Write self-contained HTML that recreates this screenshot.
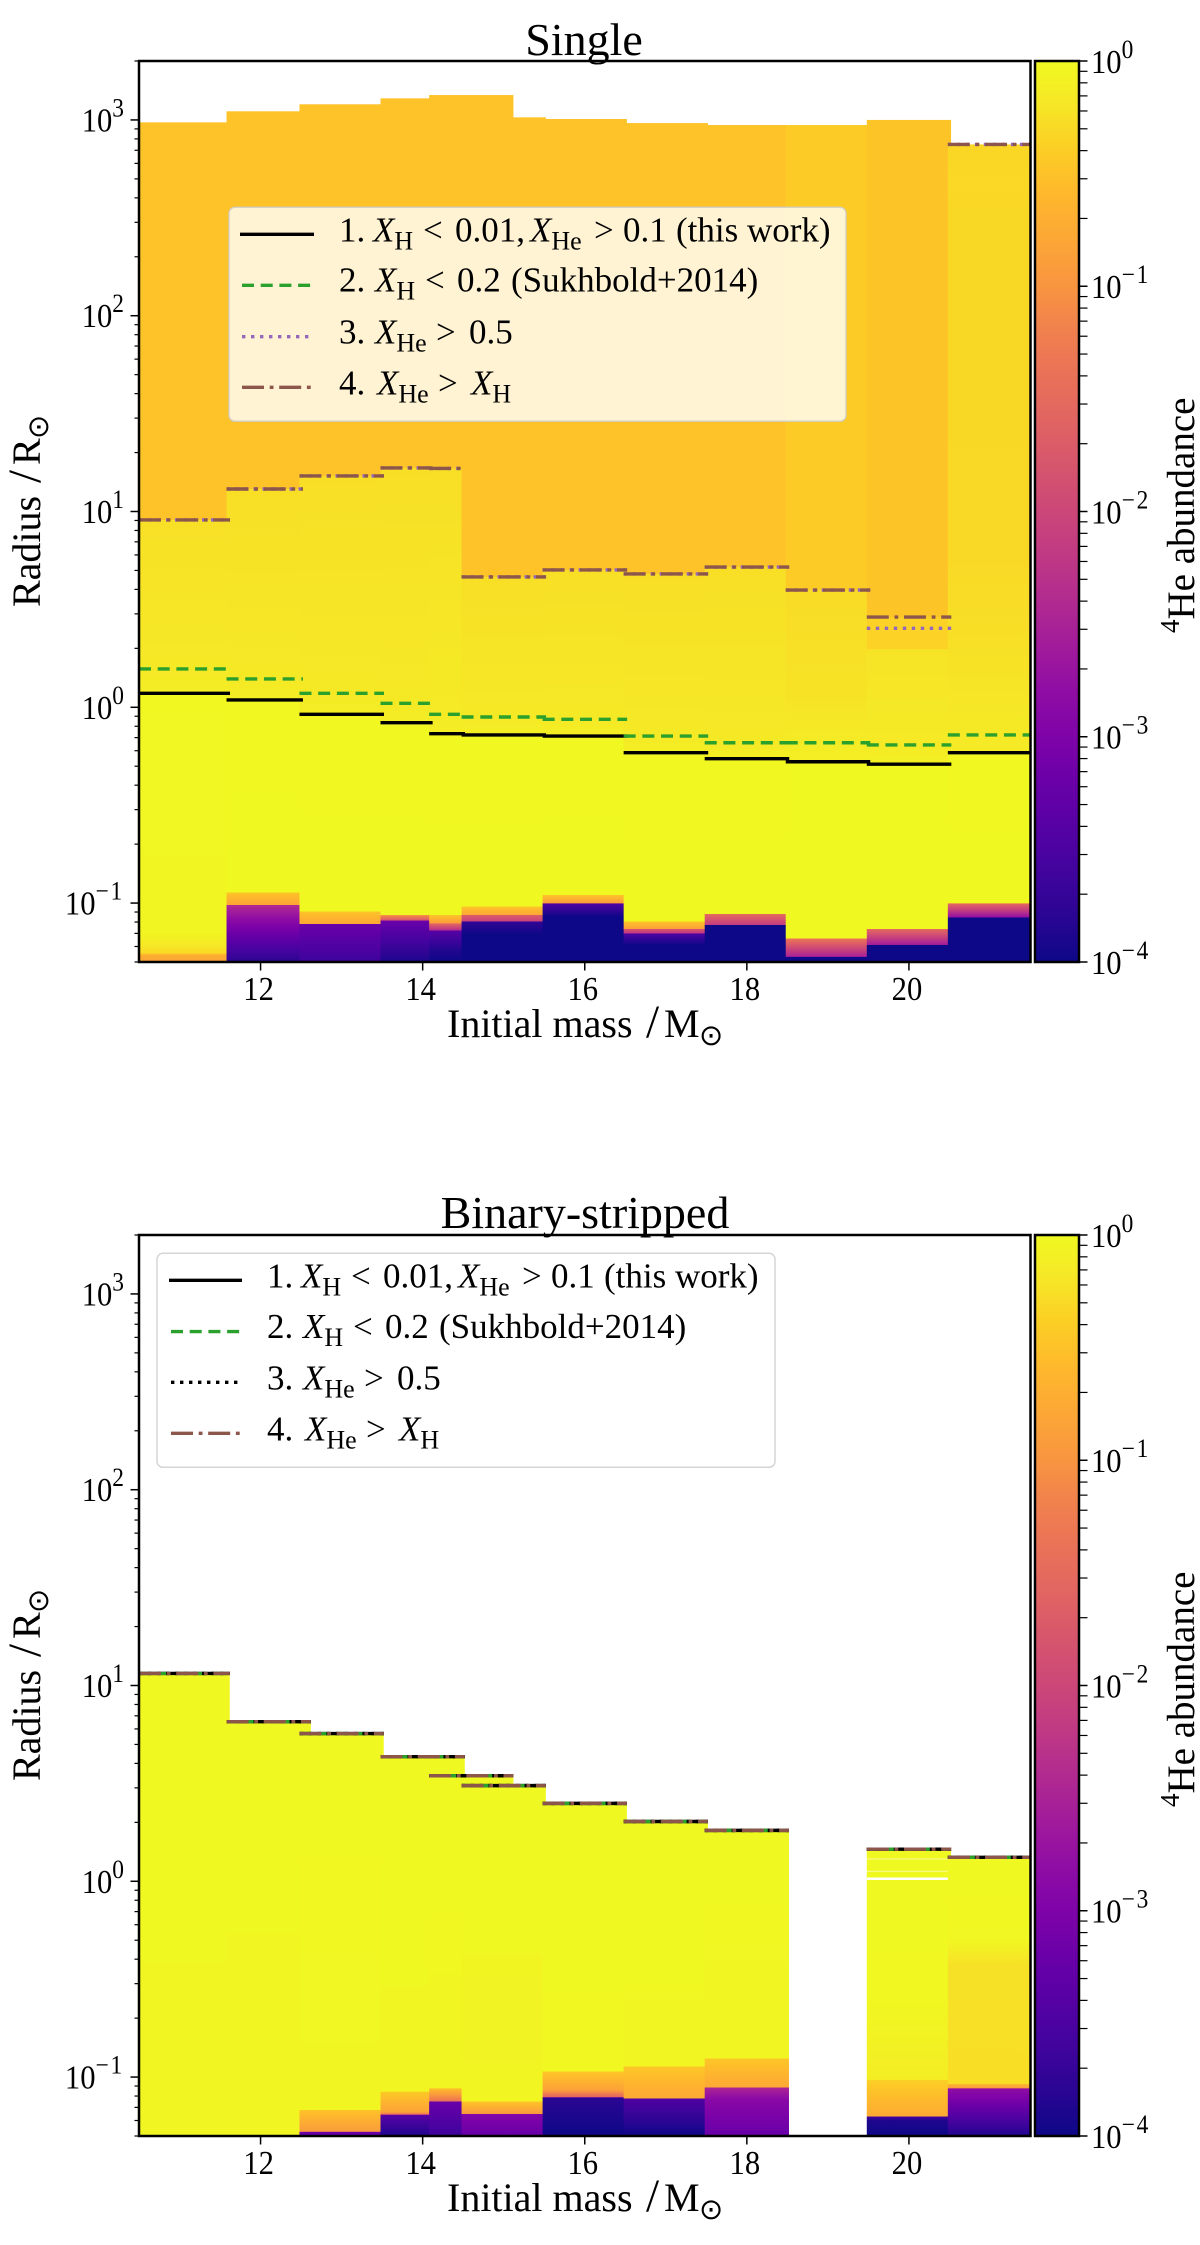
<!DOCTYPE html>
<html lang="en">
<head>
<meta charset="utf-8">
<title>Helium abundance profiles: single and binary-stripped stars</title>
<style>
html,body{margin:0;padding:0;background:#fff;}
svg{display:block;font-family:"Liberation Serif","DejaVu Serif",serif;fill:#000;}
.sun{font-family:"DejaVu Sans",sans-serif;}
</style>
</head>
<body>
<svg id="figure" xmlns="http://www.w3.org/2000/svg" width="1200" height="2245" viewBox="0 0 1200 2245">
  <defs id="defs">
    <clipPath id="clip-single"><rect x="139" y="61" width="891.5" height="901"/></clipPath>
    <clipPath id="clip-binary"><rect x="139" y="1235" width="891.5" height="901"/></clipPath>
  </defs>

  <g id="single-panel"></g>
  <g id="binary-panel"></g>

  <text x="584" y="55" font-size="46" text-anchor="middle">Single</text>
  <text x="447" y="1037" font-size="40">Initial mass<tspan x="646" font-size="47">/</tspan><tspan x="664">M</tspan><tspan class="sun" x="699" font-size="29" dy="8">⊙</tspan></text>
  <text transform="translate(40,607) rotate(-90)" font-size="40">Radius<tspan x="124" font-size="47">/</tspan><tspan x="142">R</tspan><tspan class="sun" x="168" font-size="29" dy="8">⊙</tspan></text>
  <text transform="translate(1194,633) rotate(-90)" font-size="39"><tspan font-size="27" dy="-15">4</tspan><tspan dy="15">He abundance</tspan></text>

  <text x="585" y="1228" font-size="46" text-anchor="middle">Binary-stripped</text>
  <text x="447" y="2211" font-size="40">Initial mass<tspan x="646" font-size="47">/</tspan><tspan x="664">M</tspan><tspan class="sun" x="699" font-size="29" dy="8">⊙</tspan></text>
  <text transform="translate(40,1781) rotate(-90)" font-size="40">Radius<tspan x="124" font-size="47">/</tspan><tspan x="142">R</tspan><tspan class="sun" x="168" font-size="29" dy="8">⊙</tspan></text>
  <text transform="translate(1194,1807) rotate(-90)" font-size="39"><tspan font-size="27" dy="-15">4</tspan><tspan dy="15">He abundance</tspan></text>

  <g transform="translate(229,207.3)">
    <rect x="0" y="0" width="617" height="214" rx="6" fill="#fff" fill-opacity="0.8" stroke="#ccc" stroke-opacity="0.8" stroke-width="1.5"/>
    <line x1="11" x2="85" y1="27" y2="27" stroke="#000" stroke-width="3.4"/>
    <line x1="13" x2="83" y1="78" y2="78" stroke="#2ca02c" stroke-width="3.4" stroke-dasharray="12 6.7"/>
    <line x1="13" x2="83" y1="129.4" y2="129.4" stroke="#9467bd" stroke-width="3.4" stroke-dasharray="3.4 5.6"/>
    <line x1="13" x2="83" y1="180" y2="180" stroke="#8c564b" stroke-width="3.4" stroke-dasharray="22 5.7 3.8 5.7"/>
    <text x="110" y="34.4" font-size="35">1.<tspan x="144" font-style="italic">X</tspan><tspan font-size="26" dy="8">H</tspan><tspan x="194" dy="-8">&lt;</tspan><tspan x="226">0.01,</tspan><tspan x="301" font-style="italic">X</tspan><tspan font-size="26" dy="8">He</tspan><tspan x="365" dy="-8">&gt;</tspan><tspan x="394">0.1</tspan><tspan x="447">(this work)</tspan></text>
    <text x="110" y="84.4" font-size="35">2.<tspan x="146" font-style="italic">X</tspan><tspan font-size="26" dy="8">H</tspan><tspan x="196" dy="-8">&lt;</tspan><tspan x="228">0.2</tspan><tspan x="282">(Sukhbold+2014)</tspan></text>
    <text x="110" y="136" font-size="35">3.<tspan x="146" font-style="italic">X</tspan><tspan font-size="26" dy="8">He</tspan><tspan x="207" dy="-8">&gt;</tspan><tspan x="240">0.5</tspan></text>
    <text x="110" y="187" font-size="35">4.<tspan x="148" font-style="italic">X</tspan><tspan font-size="26" dy="8">He</tspan><tspan x="209" dy="-8">&gt;</tspan><tspan x="242" font-style="italic">X</tspan><tspan font-size="26" dy="8">H</tspan></text>
  </g>

  <g transform="translate(157,1253.3)">
    <rect x="0" y="0" width="618" height="214" rx="6" fill="#fff" fill-opacity="0.8" stroke="#ccc" stroke-opacity="0.8" stroke-width="1.5"/>
    <line x1="12" x2="85" y1="27" y2="27" stroke="#000" stroke-width="3.4"/>
    <line x1="14" x2="83" y1="78.3" y2="78.3" stroke="#2ca02c" stroke-width="3.4" stroke-dasharray="12 6.7"/>
    <line x1="14" x2="83" y1="129" y2="129" stroke="#000" stroke-width="3.4" stroke-dasharray="3.4 5.6"/>
    <line x1="14" x2="83" y1="180" y2="180" stroke="#8c564b" stroke-width="3.4" stroke-dasharray="22 5.7 3.8 5.7"/>
    <text x="110" y="34.4" font-size="35">1.<tspan x="144" font-style="italic">X</tspan><tspan font-size="26" dy="8">H</tspan><tspan x="194" dy="-8">&lt;</tspan><tspan x="226">0.01,</tspan><tspan x="301" font-style="italic">X</tspan><tspan font-size="26" dy="8">He</tspan><tspan x="365" dy="-8">&gt;</tspan><tspan x="394">0.1</tspan><tspan x="447">(this work)</tspan></text>
    <text x="110" y="84.7" font-size="35">2.<tspan x="146" font-style="italic">X</tspan><tspan font-size="26" dy="8">H</tspan><tspan x="196" dy="-8">&lt;</tspan><tspan x="228">0.2</tspan><tspan x="282">(Sukhbold+2014)</tspan></text>
    <text x="110" y="136" font-size="35">3.<tspan x="146" font-style="italic">X</tspan><tspan font-size="26" dy="8">He</tspan><tspan x="207" dy="-8">&gt;</tspan><tspan x="240">0.5</tspan></text>
    <text x="110" y="187" font-size="35">4.<tspan x="148" font-style="italic">X</tspan><tspan font-size="26" dy="8">He</tspan><tspan x="209" dy="-8">&gt;</tspan><tspan x="242" font-style="italic">X</tspan><tspan font-size="26" dy="8">H</tspan></text>
  </g>
</svg>

<script>
// ---- shared categories and ticks ----
const masses = [11.1, 12.1, 13, 14, 14.6, 15, 16, 17, 18, 19, 20, 21];
const xTickValues = [12, 14, 16, 18, 20];
const yTickExponents = [-1, 0, 1, 2, 3];
const colorbarExponents = [-4, -3, -2, -1, 0];
const minorMultipliers = [2, 3, 4, 5, 6, 7, 8, 9];

// ---- Single: boundary radii per mass ----
const singleLine1 = [1.179, 1.09, 0.921, 0.834, 0.733, 0.722, 0.713, 0.586, 0.546, 0.527, 0.512, 0.586];
const singleLine2 = [1.569, 1.395, 1.179, 1.048, 0.921, 0.892, 0.868, 0.713, 0.659, 0.659, 0.642, 0.722];
const singleLine3 = [9.05, 13.03, 15.2, 16.7, 16.6, 4.63, 5.03, 4.8, 5.2, 3.97, 2.53, 750];
const singleLine4 = [9.05, 13.03, 15.2, 16.7, 16.6, 4.63, 5.03, 4.8, 5.2, 3.97, 2.89, 750];

// ---- Single: [radius, 4He abundance] read down each column ----
const singleProfiles = [
  [[972,.32],[9.06,.32],[9.04,.56],[1.57,.68],[1.19,.76],[1.17,.96],[.072,.93],[.062,.7],[.0555,.5],[.0543,.2],[.05,.14]],
  [[1107,.32],[13.04,.32],[13.02,.55],[1.4,.68],[1.1,.76],[1.08,.96],[.113,.97],[.1129,.34],[.0978,.158],[.0976,.004],[.0821,.00145],[.0648,.00046],[.05,.00016]],
  [[1202,.32],[15.21,.32],[15.19,.55],[1.18,.68],[.93,.76],[.91,.96],[.0904,.97],[.0903,.34],[.0782,.158],[.078,.00063],[.05,.00023]],
  [[1289,.32],[16.71,.32],[16.69,.55],[1.05,.68],[.84,.76],[.825,.96],[.0869,.97],[.0868,.10],[.0813,.014],[.0812,.0006],[.0611,.00023],[.05,.000126]],
  [[1340,.32],[16.61,.32],[16.59,.55],[.93,.70],[.74,.76],[.725,.96],[.0869,.97],[.0868,.34],[.0792,.13],[.0782,.025],[.0723,.004],[.0722,.0004],[.0576,.00014],[.05,.0001]],
  [[1031,.32],[4.64,.32],[4.62,.55],[.9,.68],[.73,.76],[.715,.96],[.0959,.97],[.0958,.35],[.087,.16],[.0868,.02],[.0804,.008],[.0803,.00018],[.0687,.0001],[.05,.0001]],
  [[1011,.32],[5.04,.32],[5.02,.55],[.87,.68],[.72,.76],[.705,.96],[.11,.97],[.1098,.34],[.0998,.12],[.0997,.00033],[.0852,.0001],[.05,.0001]],
  [[964,.32],[4.81,.32],[4.79,.55],[.72,.68],[.59,.76],[.58,.96],[.0804,.97],[.0803,.34],[.0737,.13],[.0736,.016],[.0701,.006],[.07,.00033],[.0611,.0001],[.05,.0001]],
  [[942,.32],[5.21,.32],[5.19,.55],[.66,.68],[.55,.76],[.54,.96],[.0878,.97],[.0877,.03],[.0773,.007],[.0772,.0001],[.05,.0001]],
  [[942,.38],[3.98,.38],[3.96,.52],[1.1,.60],[.66,.72],[.53,.78],[.52,.97],[.0661,.97],[.066,.045],[.0532,.003],[.0531,.0001],[.05,.0001]],
  [[1000,.33],[2.9,.33],[2.88,.44],[1.99,.44],[1.97,.60],[.65,.70],[.52,.78],[.505,.97],[.0737,.97],[.0736,.03],[.0611,.0025],[.061,.0001],[.05,.0001]],
  [[750,.48],[5.46,.50],[2.2,.56],[1.09,.63],[.6,.72],[.58,.96],[.0998,.97],[.0997,.03],[.0846,.0017],[.0845,.0001],[.05,.0001]]
];

// ---- Binary-stripped: boundary radii per mass (null = no model) ----
const binaryLine1 = [11.53, 6.53, 5.68, 4.33, 3.46, 3.08, 2.50, 2.02, 1.82, null, 1.459, 1.325];
const binaryLine2 = [11.53, 6.53, 5.68, 4.33, 3.46, 3.08, 2.50, 2.02, 1.82, null, 1.459, 1.325];
const binaryLine3 = [11.53, 6.53, 5.68, 4.33, 3.46, 3.08, 2.50, 2.02, 1.82, null, 1.459, 1.325];
const binaryLine4 = [11.53, 6.53, 5.68, 4.33, 3.46, 3.08, 2.50, 2.02, 1.82, null, 1.459, 1.325];
const binaryGapRadii = [1.03, 1.125, 1.30];
const binaryGapMassIndex = 10;

// ---- Binary-stripped: [radius, 4He abundance] read down each column ----
const binaryProfiles = [
  [[11.53,.98],[.4,.98],[.37,.93],[.05,.93]],
  [[6.53,.98],[.55,.98],[.54,.91],[.05,.92]],
  [[5.68,.98],[.3,.95],[.0679,.93],[.0678,.33],[.0526,.12],[.0525,.0006],[.05,.0006]],
  [[4.33,.98],[.3,.97],[.28,.93],[.0842,.93],[.0841,.37],[.0666,.15],[.0645,.05],[.064,.0004],[.05,.00013]],
  [[3.46,.98],[.34,.96],[.32,.90],[.0877,.92],[.0876,.30],[.0749,.04],[.0748,.0006],[.05,.00023]],
  [[3.08,.98],[.43,.97],[.41,.89],[.0749,.90],[.0748,.33],[.0648,.11],[.0647,.0011],[.05,.0006]],
  [[2.5,.98],[.1066,.96],[.1065,.35],[.0859,.14],[.0789,.025],[.0788,.00016],[.05,.0001]],
  [[2.02,.98],[.3,.97],[.2,.92],[.113,.92],[.1129,.35],[.0779,.17],[.0778,.00035],[.05,.0001]],
  [[1.82,.98],[.5,.96],[.2,.90],[.1247,.90],[.1246,.35],[.0887,.17],[.0886,.0035],[.0764,.0013],[.05,.0006]],
  [],
  [[1.459,.98],[.2477,.96],[.0966,.75],[.0965,.42],[.0628,.18],[.0627,.00025],[.0597,.00013],[.05,.0001]],
  [[1.325,.98],[.5075,.95],[.378,.58],[.0922,.55],[.0921,.25],[.0877,.12],[.0876,.0016],[.05,.00013]]
];

// ---- plasma colormap anchor colours (0 to 1) ----
const plasmaColors = ['#0d0887','#2a0593','#41049d','#5601a4','#6a00a8','#7e03a8','#8f0da4','#a11b9b','#b12a90','#bf3984','#cc4778','#d6556d','#e16462','#e97158','#f0804e','#f89540','#fca636','#feb72d','#fccd25','#f6e626','#f0f921'];

// ---- axis functions ----
const SVG_NS = 'http://www.w3.org/2000/svg';
const xMin = 10.5, xMax = 21.5, yMin = 0.05, yMax = 2000, heMin = 1e-4, heMax = 1;
const plotLeft = 139, plotRight = 1030.5, plotHeight = 901;
const halfWidth = 0.52, lineOverhang = 0.043;
const xScale = m => plotLeft + (m - xMin) / (xMax - xMin) * (plotRight - plotLeft);
const yScale = (r, top) => top + (Math.log10(yMax) - Math.log10(r)) / (Math.log10(yMax) - Math.log10(yMin)) * plotHeight;
const heToT = he => Math.max(0, Math.min(1, (Math.log10(he) - Math.log10(heMin)) / (Math.log10(heMax) - Math.log10(heMin))));

function hexRgb(h) { return [parseInt(h.slice(1,3),16), parseInt(h.slice(3,5),16), parseInt(h.slice(5,7),16)]; }
function plasma(t) {
  const p = t * (plasmaColors.length - 1), i = Math.min(plasmaColors.length - 2, Math.floor(p)), f = p - i;
  const a = hexRgb(plasmaColors[i]), b = hexRgb(plasmaColors[i + 1]);
  return 'rgb(' + a.map((v, k) => Math.round(v + (b[k] - v) * f)).join(',') + ')';
}
function mk(tag, attrs, parent) {
  const el = document.createElementNS(SVG_NS, tag);
  for (const k in attrs) el.setAttribute(k, attrs[k]);
  if (parent) parent.appendChild(el);
  return el;
}
function powerLabel(parent, x, y, exp, anchor) {
  const t = mk('text', {transform: 'translate(' + x + ',' + y + ') scale(0.9,1)', 'font-size': 34, 'text-anchor': anchor}, parent);
  t.appendChild(document.createTextNode('10'));
  const s = mk('tspan', {'font-size': 26, dy: -15}, t);
  if (exp < 0) s.setAttribute('letter-spacing', '2');
  s.textContent = String(exp).replace('-', '\u2212');
  return t;
}

const defs = document.getElementById('defs');
let gradientCount = 0;

function columnGradient(profile, top) {
  const id = 'column-gradient-' + (gradientCount++);
  const y0 = yScale(profile[0][0], top), y1 = yScale(profile[profile.length - 1][0], top);
  const g = mk('linearGradient', {id: id, gradientUnits: 'userSpaceOnUse', x1: 0, x2: 0, y1: y0, y2: y1}, defs);
  for (let i = 0; i < profile.length - 1; i++) {
    const steps = 5;
    for (let s = 0; s < steps; s++) {
      const f = s / steps;
      const y = yScale(profile[i][0], top) * (1 - f) + yScale(profile[i + 1][0], top) * f;
      const lh = Math.log10(profile[i][1]) * (1 - f) + Math.log10(profile[i + 1][1]) * f;
      mk('stop', {offset: ((y - y0) / (y1 - y0)).toFixed(5), 'stop-color': plasma(heToT(Math.pow(10, lh)))}, g);
    }
  }
  mk('stop', {offset: 1, 'stop-color': plasma(heToT(profile[profile.length - 1][1]))}, g);
  return id;
}

function drawPanel(panel, top, clipId, profiles, lines, truncateLines, line3Color, gapRadii, gapIndex) {
  const bottom = top + plotHeight;
  const marks = mk('g', {'clip-path': 'url(#' + clipId + ')'}, panel);

  // heatmap columns, later masses paint over earlier ones
  profiles.forEach((profile, i) => {
    if (!profile.length) return;
    const left = i === 0 ? xMin : masses[i] - halfWidth;
    const right = masses[i] + halfWidth;
    const yTop = yScale(profile[0][0], top);
    const rect = mk('rect', {x: xScale(left), y: yTop, width: xScale(right) - xScale(left), height: yScale(profile[profile.length - 1][0], top) - yTop, fill: 'url(#' + columnGradient(profile, top) + ')'}, marks);
    
    
    if (i === gapIndex) {
      gapRadii.forEach((r, g) => {
        const gapHeight = g === 0 ? 2.5 : 1;
        const gap = mk('rect', {x: xScale(left), y: yScale(r, top) - gapHeight / 2, width: xScale(right) - xScale(left), height: gapHeight, fill: '#fff', 'fill-opacity': g === 0 ? 1 : 0.55}, marks);
        
        
      });
    }
  });

  // boundary step lines
  const styles = [
    {stroke: '#000', dash: 'none', name: 'boundary-1'},
    {stroke: '#2ca02c', dash: '12 6.7', name: 'boundary-2'},
    {stroke: line3Color, dash: '3.4 5.6', name: 'boundary-3'},
    {stroke: '#8c564b', dash: '22 5.7 3.8 5.7', name: 'boundary-4'}
  ];
  lines.forEach((series, s) => {
    series.forEach((r, i) => {
      if (r === null) return;
      const left = i === 0 ? xMin : masses[i] - halfWidth;
      const right = truncateLines && i < masses.length - 1 ? masses[i + 1] - halfWidth + lineOverhang : masses[i] + halfWidth;
      const ln = mk('line', {x1: xScale(left), x2: xScale(right), y1: yScale(r, top), y2: yScale(r, top), stroke: styles[s].stroke, 'stroke-width': 3.4, 'stroke-dasharray': styles[s].dash}, marks);
      
      
    });
  });

  // frame
  const frame = mk('rect', {x: plotLeft, y: top, width: plotRight - plotLeft, height: plotHeight, fill: 'none', stroke: '#000', 'stroke-width': 2.5}, panel);
  
  

  // x ticks
  xTickValues.forEach(v => {
    const tick = mk('line', {x1: xScale(v), x2: xScale(v), y1: bottom, y2: bottom + 8.5, stroke: '#000', 'stroke-width': 1.5}, panel);
    
    
    const label = mk('text', {transform: 'translate(' + (xScale(v) - 2) + ',' + (bottom + 38) + ') scale(0.9,1)', 'font-size': 34, 'text-anchor': 'middle'}, panel);
    label.textContent = v;
    
    
  });

  // y ticks
  for (let e = -2; e <= 3; e++) {
    minorMultipliers.forEach(m => {
      const r = m * Math.pow(10, e);
      if (r < yMin || r > yMax) return;
      const y = yScale(r, top);
      const tick = mk('line', {x1: plotLeft - 4.5, x2: plotLeft, y1: y, y2: y, stroke: '#000', 'stroke-width': 1.2}, panel);
      
      
    });
  }
  yTickExponents.forEach(e => {
    const y = yScale(Math.pow(10, e), top);
    const tick = mk('line', {x1: plotLeft - 8.5, x2: plotLeft, y1: y, y2: y, stroke: '#000', 'stroke-width': 1.5}, panel);
    
    
    const label = powerLabel(panel, 124, y + 11.5, e, 'end');
    
    
  });

  // colorbar
  const cbLeft = 1035, cbRight = 1079;
  const gid = 'colorbar-gradient-' + (gradientCount++);
  const grad = mk('linearGradient', {id: gid, x1: 0, x2: 0, y1: 1, y2: 0}, defs);
  plasmaColors.forEach((c, i) => mk('stop', {offset: i / (plasmaColors.length - 1), 'stop-color': c}, grad));
  const cb = mk('rect', {x: cbLeft, y: top, width: cbRight - cbLeft, height: plotHeight, fill: 'url(#' + gid + ')', stroke: '#000', 'stroke-width': 2.5}, panel);
  
  
  const cbY = he => top + heToT(1) * plotHeight - heToT(he) * plotHeight;
  for (let e = -4; e < 0; e++) {
    minorMultipliers.forEach(m => {
      const y = cbY(m * Math.pow(10, e));
      const tick = mk('line', {x1: cbRight, x2: cbRight + 8.5, y1: y, y2: y, stroke: '#000', 'stroke-width': 1.2}, panel);
      
      
    });
  }
  colorbarExponents.forEach(e => {
    const y = cbY(Math.pow(10, e));
    const tick = mk('line', {x1: cbRight, x2: cbRight + 8.5, y1: y, y2: y, stroke: '#000', 'stroke-width': 1.5}, panel);
    
    
    const label = powerLabel(panel, 1091, y + 11.8, e, 'start');
    
    
  });
}

drawPanel(document.getElementById('single-panel'), 61, 'clip-single', singleProfiles,
  [singleLine1, singleLine2, singleLine3, singleLine4], true, '#9467bd', [], -1);
drawPanel(document.getElementById('binary-panel'), 1235, 'clip-binary', binaryProfiles,
  [binaryLine1, binaryLine2, binaryLine3, binaryLine4], false, '#000', binaryGapRadii, binaryGapMassIndex);
</script>
</body>
</html>
